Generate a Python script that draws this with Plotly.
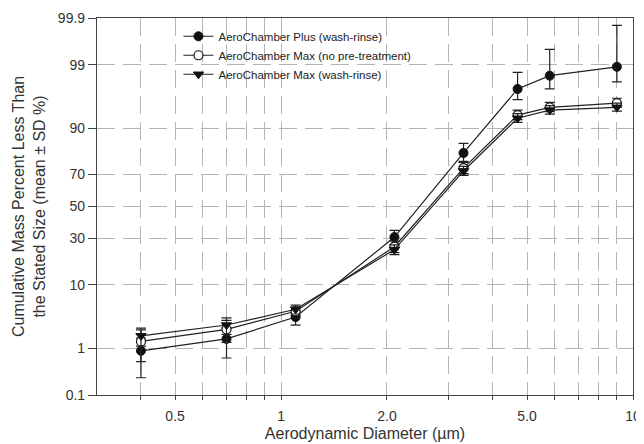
import math
import plotly.graph_objects as go
from statistics import NormalDist

# ---- data ----
diameter_um = [0.4, 0.7, 1.1, 2.1, 3.3, 4.7, 5.8, 9.0]

plus_wash_mean = [0.9, 1.5, 3.5, 30.8, 81.0, 97.3, 98.4, 98.9]
plus_wash_sd = [0.65, 0.85, 0.9, 4.0, 4.0, 1.3, 1.1, 0.95]

max_nopre_mean = [1.35, 2.2, 4.3, 25.5, 73.5, 93.3, 94.8, 95.5]
max_nopre_sd = [0.8, 0.9, 0.6, 3.0, 3.0, 1.0, 0.8, 0.7]

max_wash_mean = [1.7, 2.6, 4.6, 24.0, 72.0, 92.6, 94.3, 94.8]
max_wash_sd = [0.6, 0.8, 0.7, 2.5, 2.5, 1.0, 0.8, 0.7]

y_tick_pct = [0.1, 1, 10, 30, 50, 70, 90, 99, 99.9]
y_tick_text = ["0.1", "1", "10", "30", "50", "70", "90", "99", "99.9"]

x_tick_vals = [0.4, 0.5, 0.6, 0.7, 0.8, 0.9, 1, 2, 3, 4, 5, 6, 7, 8, 9, 10]
x_tick_text = ["", "0.5", "", "", "", "", "1", "2.0", "", "", "5.0", "", "", "", "", "10"]

series_names = [
    "AeroChamber Plus (wash-rinse)",
    "AeroChamber Max (no pre-treatment)",
    "AeroChamber Max (wash-rinse)",
]

# ---- probability (probit) scale ----
nd = NormalDist()


def probit(p):
    p = min(max(p, 0.01), 99.99)
    return nd.inv_cdf(p / 100.0)


def series(mean, sd):
    y = [probit(m) for m in mean]
    up = [probit(m + s) - probit(m) for m, s in zip(mean, sd)]
    dn = [probit(m) - probit(m - s) for m, s in zip(mean, sd)]
    return y, up, dn


styles = [
    dict(symbol="circle", color="#111111", line=dict(color="#111111", width=1)),
    dict(symbol="circle", color="white", line=dict(color="#111111", width=1.2)),
    dict(symbol="triangle-down", color="#111111", line=dict(color="#111111", width=1)),
]

fig = go.Figure()
for name, mean, sd, st in zip(
    series_names,
    [plus_wash_mean, max_nopre_mean, max_wash_mean],
    [plus_wash_sd, max_nopre_sd, max_wash_sd],
    styles,
):
    y, up, dn = series(mean, sd)
    fig.add_trace(
        go.Scatter(
            x=diameter_um,
            y=y,
            name=name,
            mode="lines+markers",
            line=dict(color="#222222", width=1.2),
            marker=dict(size=9, **st),
            error_y=dict(
                type="data",
                symmetric=False,
                array=up,
                arrayminus=dn,
                color="#222222",
                thickness=1.2,
                width=5,
            ),
        )
    )

font_family = "Liberation Sans, Arial, sans-serif"
grid_color = "#b4b4b4"
grid_dash = "18px,8px"

# the page body adds an 8px offset, so the figure is 8px smaller
fig.update_layout(
    width=636,
    height=436,
    margin=dict(l=89, r=11, t=10, b=49),
    paper_bgcolor="white",
    plot_bgcolor="white",
    font=dict(family=font_family, size=14, color="#333333"),
    showlegend=True,
    legend=dict(
        x=0.152,
        y=0.99,
        xanchor="left",
        yanchor="top",
        bgcolor="rgba(0,0,0,0)",
        font=dict(size=11.5, color="#222222"),
        tracegroupgap=0,
        itemwidth=30,
    ),
    xaxis=dict(
        type="log",
        range=[math.log10(0.3), 1],
        tickmode="array",
        tickvals=x_tick_vals,
        ticktext=x_tick_text,
        ticks="outside",
        ticklen=4,
        tickcolor="#444444",
        ticklabelstandoff=4,
        showgrid=True,
        gridcolor=grid_color,
        griddash=grid_dash,
        gridwidth=1,
        showline=True,
        linecolor="#444444",
        linewidth=1.2,
        mirror=True,
        zeroline=False,
        automargin=False,
        title=dict(text="Aerodynamic Diameter (µm)", standoff=4, font=dict(size=16)),
    ),
    yaxis=dict(
        range=[probit(0.1), probit(99.9)],
        tickmode="array",
        tickvals=[probit(v) for v in y_tick_pct],
        ticktext=y_tick_text,
        ticks="outside",
        ticklen=8,
        tickcolor="#444444",
        showgrid=True,
        gridcolor=grid_color,
        griddash=grid_dash,
        gridwidth=1,
        showline=True,
        linecolor="#444444",
        linewidth=1.2,
        mirror=True,
        zeroline=False,
        automargin=False,
        title=dict(
            text="Cumulative Mass Percent Less Than<br>the Stated Size (mean ± SD %)",
            standoff=8,
            font=dict(size=16),
        ),
    ),
)

fig.write_html("out.html")
